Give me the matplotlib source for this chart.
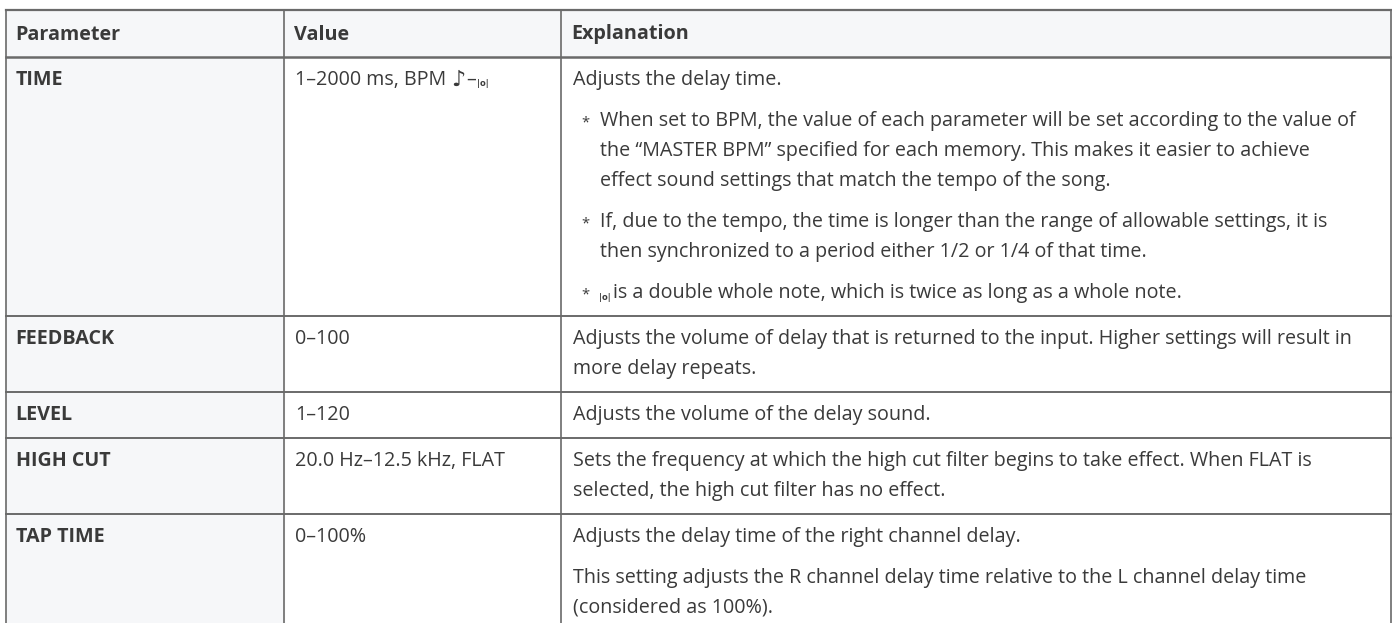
import matplotlib
matplotlib.use("Agg")
import matplotlib.pyplot as plt
from matplotlib.patches import Rectangle

# ---- table content ----
headers = ["Parameter", "Value", "Explanation"]
params = ["TIME", "FEEDBACK", "LEVEL", "HIGH CUT", "TAP TIME"]
values = ["1\u20132000 ms, BPM ", "0\u2013100", "1\u2013120", "20.0 Hz\u201312.5 kHz, FLAT", "0\u2013100%"]
# each row: list of paragraphs, paragraph = (bullet?, [lines])
explanations = [
    [(False, ["Adjusts the delay time."]),
     (True, ["When set to BPM, the value of each parameter will be set according to the value of",
             "the \u201cMASTER BPM\u201d specified for each memory. This makes it easier to achieve",
             "effect sound settings that match the tempo of the song."]),
     (True, ["If, due to the tempo, the time is longer than the range of allowable settings, it is",
             "then synchronized to a period either 1/2 or 1/4 of that time."]),
     (True, ["@is a double whole note, which is twice as long as a whole note."])],
    [(False, ["Adjusts the volume of delay that is returned to the input. Higher settings will result in",
              "more delay repeats."])],
    [(False, ["Adjusts the volume of the delay sound."])],
    [(False, ["Sets the frequency at which the high cut filter begins to take effect. When FLAT is",
              "selected, the high cut filter has no effect."])],
    [(False, ["Adjusts the delay time of the right channel delay."]),
     (False, ["This setting adjusts the R channel delay time relative to the L channel delay time",
              "(considered as 100%)."])],
]

W, H = 1392, 623
FONT = "Open Sans"
FS = 14.2
TXT = "#3a3a3a"
LINE = "#6a6a6a"
GREY = "#f6f7f9"

x_cols = [5.5, 284, 561, 1390.5]
top = 10
head_h = 47
line_h = 30
pad = 8
gap = 11

fig = plt.figure(figsize=(W / 100, H / 100), dpi=100)
ax = fig.add_axes([0, 0, 1, 1])
ax.set_xlim(0, W)
ax.set_ylim(H, 0)
ax.axis("off")

# row extents
rows = []
y = top + head_h
for ex in explanations:
    n = sum(len(p[1]) for p in ex)
    h = 2 * pad + n * line_h + (len(ex) - 1) * gap
    rows.append((y, y + h))
    y += h

# backgrounds
ax.add_patch(Rectangle((x_cols[0], top), x_cols[3] - x_cols[0], head_h, color=GREY, zorder=0))
ax.add_patch(Rectangle((x_cols[0], top + head_h), x_cols[1] - x_cols[0], H, color=GREY, zorder=0))

# grid lines
ax.plot([x_cols[0], x_cols[3]], [top, top], color=LINE, lw=1.6, zorder=2)
ax.plot([x_cols[0], x_cols[3]], [top + head_h, top + head_h], color=LINE, lw=1.8, zorder=2)
for y0, y1 in rows[1:]:
    ax.plot([x_cols[0], x_cols[3]], [y0, y0], color=LINE, lw=1.4, zorder=2)
for xc in x_cols:
    ax.plot([xc, xc], [top, H], color=LINE, lw=1.2, zorder=2)

# header
for xc, h in zip(x_cols[:3], headers):
    ax.text(xc + 10, top + head_h / 2 + 1, h, fontsize=FS, fontweight="bold",
            family=FONT, color=TXT, va="center", ha="left")

NOTE_KW = dict(fontsize=6, fontweight="bold", family="DejaVu Sans", color=TXT, ha="left")

for i, (y0, y1) in enumerate(rows):
    yc = y0 + pad + line_h / 2
    ax.text(x_cols[0] + 10, yc, params[i], fontsize=FS, fontweight="bold",
            family=FONT, color=TXT, va="center", ha="left")
    t = ax.text(x_cols[1] + 11, yc, values[i], fontsize=FS, family=FONT,
                color=TXT, va="center", ha="left")
    if i == 0:
        n = ax.annotate("\u266a", xy=(1, 0.5), xycoords=t, fontsize=16, family="DejaVu Sans",
                        color=TXT, va="center", ha="left")
        d = ax.annotate("\u2013", xy=(1, 0.5), xycoords=n, xytext=(0.5, 0),
                        textcoords="offset points", fontsize=FS, family=FONT,
                        color=TXT, va="center", ha="left")
        ax.annotate("|o|", xy=(1, 0.12), xycoords=d, xytext=(1, 0),
                    textcoords="offset points", va="bottom", **NOTE_KW)

    yy = yc
    for bullet, lines in explanations[i]:
        for k, ln in enumerate(lines):
            xt = x_cols[2] + 12
            if bullet:
                if k == 0:
                    ax.text(xt + 8, yy + 2, "*", fontsize=FS * 0.75, family=FONT,
                            color=TXT, va="center", ha="left")
                xt += 27
            if ln.startswith("@"):
                ax.text(xt - 1, yy + 4, "|o|", va="center", **NOTE_KW)
                ax.text(xt + 13, yy, ln[1:], fontsize=FS, family=FONT, color=TXT,
                        va="center", ha="left")
            else:
                ax.text(xt, yy, ln, fontsize=FS, family=FONT, color=TXT,
                        va="center", ha="left")
            yy += line_h
        yy += gap

fig.savefig("out.png", dpi=100)
